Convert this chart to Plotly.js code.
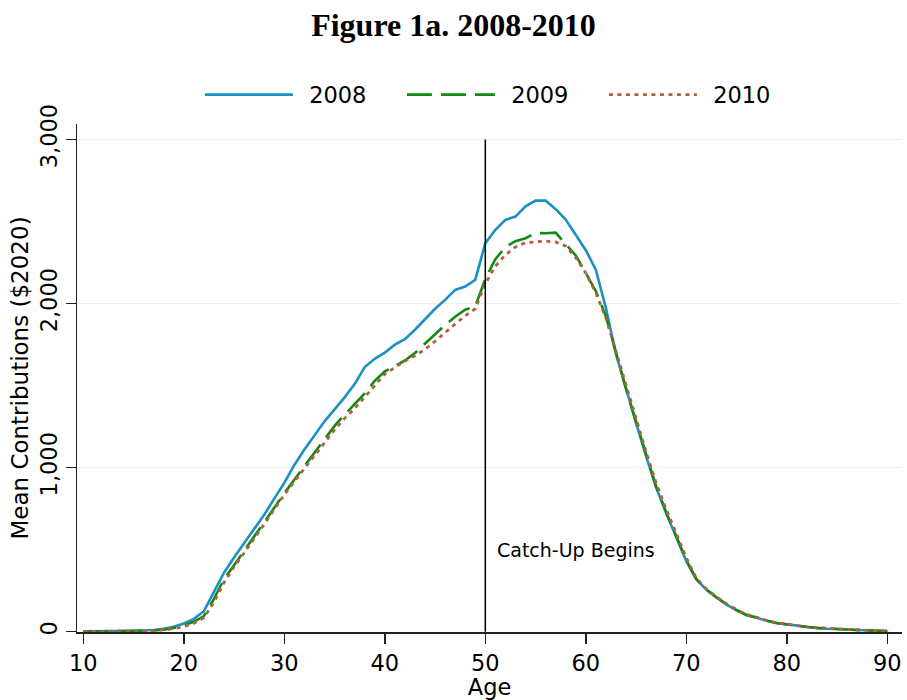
<!DOCTYPE html>
<html>
<head>
<meta charset="utf-8">
<script src="https://cdn.plot.ly/plotly-3.0.1.min.js"></script>
<style>html,body{margin:0;padding:0;background:#fff;}#chart{width:907px;height:700px;}</style>
</head>
<body>
<div id="chart"></div>
<script>
const ages = [];
for (let a = 10; a <= 90; a++) ages.push(a);

const y2008 = [2,2,3,3,4,5,7,10,18,30,50,78,125,247,359,452,539,627,713,811,907,1016,1110,1195,1282,1355,1428,1509,1613,1663,1700,1749,1783,1840,1907,1968,2022,2083,2103,2144,2368,2449,2510,2530,2592,2627,2627,2575,2512,2415,2325,2205,1972,1692,1475,1272,1069,878,722,580,430,318,256,208,165,130,100,85,66,52,44,34,27,22,18,15,12,10,8,5,3];
const y2009 = [1,1,2,2,3,4,5,7,12,22,38,60,95,200,320,405,491,576,669,755,844,925,1006,1087,1170,1254,1322,1389,1452,1529,1586,1617,1653,1698,1755,1816,1869,1919,1962,1982,2150,2270,2345,2380,2398,2430,2428,2432,2365,2293,2185,2075,1922,1700,1480,1278,1075,885,728,585,435,320,257,210,167,132,102,86,67,53,44,35,28,23,19,16,13,10,8,6,4];
const y2010 = [1,1,1,2,2,3,4,6,10,18,32,52,85,180,300,395,480,565,655,745,835,915,995,1075,1150,1230,1300,1360,1430,1500,1570,1610,1650,1682,1720,1770,1825,1875,1925,1968,2120,2228,2296,2345,2371,2377,2380,2375,2350,2280,2185,2065,1910,1710,1500,1295,1095,905,745,600,450,325,260,212,170,135,105,88,68,54,45,36,29,24,20,16,13,10,8,6,4];

const seriesNames = ["2008", "2009", "2010"];
const xTicks = [10,20,30,40,50,60,70,80,90];
const yTicks = [0,1000,2000,3000];
const yTickLabels = ["0","1,000","2,000","3,000"];
const catchUpAge = 50;
const catchUpTop = 3000;

const FONT = "DejaVu Sans";
const SP = "\u2002";
const traces = [
  {x: ages, y: y2008, name: SP + seriesNames[0], mode: "lines", line: {color: "#1a90c4", width: 2.6}},
  {x: ages, y: y2009, name: SP + seriesNames[1], mode: "lines", line: {color: "#128a12", width: 2.6, dash: "25px,9px"}},
  {x: ages, y: y2010, name: SP + seriesNames[2], mode: "lines", line: {color: "#b0603c", width: 2.8, dash: "4px,4.5px"}}
];

const layout = {
  width: 907, height: 700,
  paper_bgcolor: "#fff", plot_bgcolor: "#fff",
  margin: {l: 77, r: 5, t: 124, b: 68, pad: 0},
  font: {family: FONT, size: 22.5, color: "#000"},
  title: {text: "<b>Figure 1a. 2008-2010</b>", font: {family: "Liberation Serif", size: 32, color: "#000"},
          x: 0.5, xanchor: "center", yref: "container", y: 0.965, yanchor: "middle"},
  showlegend: true,
  legend: {orientation: "h", x: 0.149, xanchor: "left", y: 1.057, yanchor: "middle",
           entrywidth: 99, entrywidthmode: "pixels", itemwidth: 88,
           font: {family: FONT, size: 22.5, color: "#000"}, bgcolor: "rgba(0,0,0,0)"},
  xaxis: {range: [9.373, 91.46], tickvals: xTicks, ticktext: xTicks.map(String),
          ticks: "outside", ticklen: 10, tickwidth: 1.5, tickcolor: "#222",
          showline: true, linecolor: "#222", linewidth: 1.5, showgrid: false, zeroline: false,
          tickfont: {family: FONT, size: 22.5},
          title: {text: "Age", font: {family: FONT, size: 22.5}, standoff: 1}},
  yaxis: {range: [-2, 3094], tickvals: yTicks, ticktext: yTickLabels, tickangle: -90,
          ticks: "outside", ticklen: 10, tickwidth: 1.5, tickcolor: "#222",
          showline: true, linecolor: "#222", linewidth: 1.5,
          showgrid: true, gridcolor: "#e8f0f2", gridwidth: 1.5, zeroline: false,
          tickfont: {family: FONT, size: 22.5},
          title: {text: "Mean Contributions ($2020)", font: {family: FONT, size: 23}, standoff: 0}},
  shapes: [{type: "line", xref: "x", yref: "y", x0: catchUpAge, x1: catchUpAge, y0: 0, y1: catchUpTop,
            line: {color: "#000", width: 1.5}}],
  annotations: [{xref: "x", yref: "y", x: 51, y: 500, text: "Catch-Up Begins", showarrow: false,
                 xanchor: "left", yanchor: "middle", font: {family: FONT, size: 19, color: "#000"}}]
};

Plotly.newPlot("chart", traces, layout, {displayModeBar: false, staticPlot: true});
</script>
</body>
</html>
